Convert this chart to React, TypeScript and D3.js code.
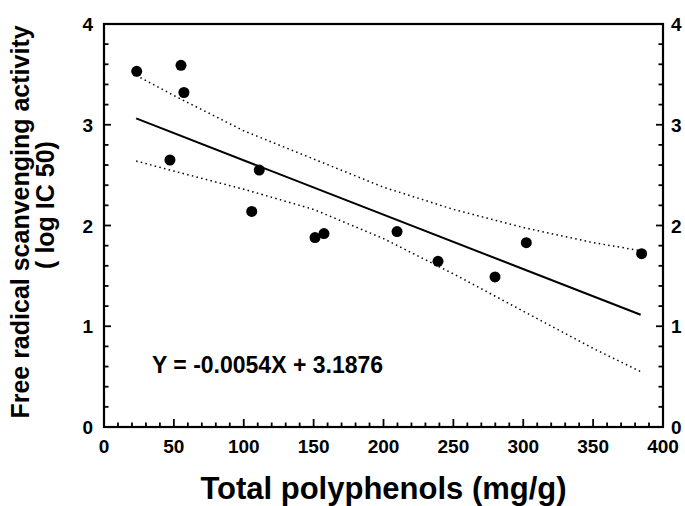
import React from 'react';
import { scaleLinear, line, range } from 'd3';

// measured samples
const polyphenols = [23.4, 55.1, 57.2, 47.2, 111.1, 105.7, 151, 157.4, 209.7, 239, 279.8, 302.2, 384.7];
const logIC50 = [3.53, 3.59, 3.32, 2.65, 2.55, 2.14, 1.88, 1.92, 1.94, 1.645, 1.49, 1.83, 1.72];

// regression line ends (Y = -0.0054X + 3.1876)
const fitX = [23, 384];
const fitY = [3.063, 1.114];

// confidence band
const bandX = [23, 50, 100, 150, 200, 250, 300, 350, 384];
const bandUpper = [3.49, 3.29, 2.94, 2.66, 2.38, 2.16, 1.98, 1.83, 1.75];
const bandLower = [2.64, 2.54, 2.36, 2.16, 1.87, 1.52, 1.15, 0.78, 0.55];

const xMajor = [0, 50, 100, 150, 200, 250, 300, 350, 400];
const yMajor = [0, 1, 2, 3, 4];

const width = 685;
const height = 506;
const font = '"Liberation Sans", Arial, sans-serif';

const x = scaleLinear().domain([0, 400]).range([104, 663]);
const y = scaleLinear().domain([0, 4]).range([427, 24]);

const App = () => {
  const [x0, x1] = x.range();
  const [y0, y1] = y.range();

  const xMinor = range(0, 401, 10);
  const yMinor = range(0, 21).map(i => i / 5);

  const bandLine = line<number>().x((d, i) => x(bandX[i])).y(d => y(d));
  const fitLine = line<number>().x((d, i) => x(fitX[i])).y(d => y(d));

  const bold = { fontFamily: font, fontWeight: 'bold' as const };

  return (
    <svg width={width} height={height} style={{ position: 'absolute', left: 0, top: 0, background: '#fff' }}>
      {/* tick labels */}
      {xMajor.map(v => (
        <text key={'xl' + v} x={x(v)} y={y0 + 26} textAnchor="middle" style={{ ...bold, fontSize: '19px' }}>{v}</text>
      ))}
      {yMajor.map(v => (
        <text key={'ylab' + v} x={x0 - 11} y={y(v) + 7} textAnchor="end" style={{ ...bold, fontSize: '19px' }}>{v}</text>
      ))}
      {yMajor.map(v => (
        <text key={'yrab' + v} x={x1 + 8} y={y(v) + 7} textAnchor="start" style={{ ...bold, fontSize: '19px' }}>{v}</text>
      ))}

      {/* confidence band */}
      {[bandUpper, bandLower].map((b, i) => (
        <path key={'band' + i} d={bandLine(b) || ''} fill="none" stroke="#000" strokeWidth={1.5}
          strokeDasharray="1.5 3.3" />
      ))}

      {/* regression line */}
      <path d={fitLine(fitY) || ''} fill="none" stroke="#000" strokeWidth={2} />

      {/* points */}
      {polyphenols.map((d, i) => (
        <circle key={'p' + i} cx={x(d)} cy={y(logIC50[i])} r={5.5} fill="#000" />
      ))}

      {/* equation */}
      <text x={152} y={373} style={{ ...bold, fontSize: '23px' }}>Y = -0.0054X + 3.1876</text>

      {/* axis titles */}
      <text x={(x0 + x1) / 2} y={499} textAnchor="middle" style={{ ...bold, fontSize: '31px' }}>
        Total polyphenols (mg/g)
      </text>
      <text transform="translate(29,222) rotate(-90)" textAnchor="middle" style={{ ...bold, fontSize: '25px' }}>
        Free radical scanvenging activity
      </text>
      <text transform="translate(54,205) rotate(-90)" textAnchor="middle" style={{ ...bold, fontSize: '25px' }}>
        ( log IC 50)
      </text>

      {/* ticks, pointing inward, drawn on top */}
      {xMinor.map(v => (
        <line key={'xt' + v} x1={x(v)} y1={y0} x2={x(v)} y2={y0 - (v % 50 === 0 ? 8 : 4.5)}
          stroke="#000" strokeWidth={1.8} />
      ))}
      {yMinor.map((v, i) => (
        <line key={'yl' + i} x1={x0} y1={y(v)} x2={x0 + (i % 5 === 0 ? 7 : 4.5)} y2={y(v)}
          stroke="#000" strokeWidth={1.8} />
      ))}
      {yMinor.map((v, i) => (
        <line key={'yr' + i} x1={x1} y1={y(v)} x2={x1 - (i % 5 === 0 ? 7 : 4.5)} y2={y(v)}
          stroke="#000" strokeWidth={1.8} />
      ))}

      {/* frame, drawn last */}
      <rect x={x0} y={y1} width={x1 - x0} height={y0 - y1} fill="none" stroke="#000" strokeWidth={2.2} />
    </svg>
  );
};

export default App;
